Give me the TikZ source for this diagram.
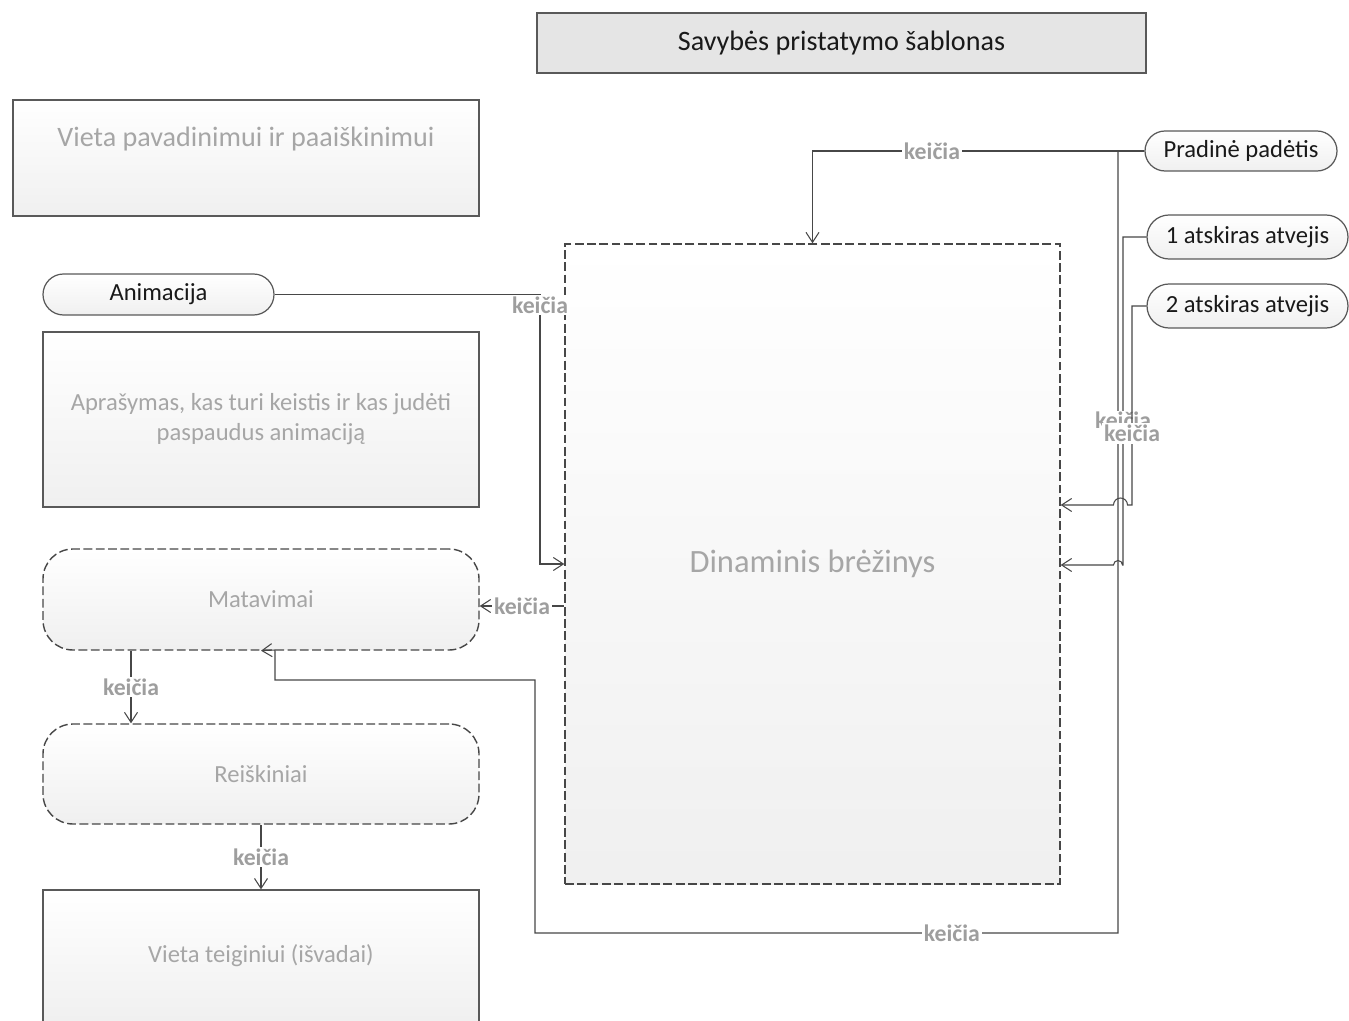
\documentclass[tikz,border=0pt]{standalone}
\usepackage{fontspec}
\setmainfont{Carlito}
\usetikzlibrary{shapes.misc, arrows.meta}

\begin{document}
\begin{tikzpicture}[
    % Estilos de las cajas (paneles, pastillas y etiquetas)
    titlebox/.style={fill=gray!20, draw=black!65, line width=0.7pt, text=black!90, font=\fontsize{16}{19}\selectfont, inner sep=0pt},
    panel/.style={draw=black!65, line width=0.7pt, top color=white, bottom color=gray!12, text=black!35, font=\fontsize{14}{17}\selectfont, align=center, inner sep=0pt},
    dashpanel/.style={panel, draw=black!72, line width=0.8pt, dash pattern=on 5pt off 2pt},
    roundpanel/.style={dashpanel, rounded corners=6mm},
    note/.style={text=black!35, font=\fontsize{16}{19}\selectfont},
    pill/.style={rounded rectangle, draw=black!65, line width=0.7pt, top color=white, bottom color=gray!12, text=black!90, font=\fontsize{14}{17}\selectfont, inner sep=0pt},
    conn/.style={draw=black!72, line width=0.6pt, -{Straight Barb[length=2mm, width=2.6mm]}},
    lbl/.style={fill=white, text=black!38, font=\bfseries\fontsize{13.5}{16}\selectfont, inner sep=1pt}
]
\useasboundingbox (0,0) rectangle (26.98,-20.42);

% ---------------------------------------------------------
% 1. CAJAS Y TEXTOS (Nodos)
% ---------------------------------------------------------
\node[titlebox, minimum width=12.18cm, minimum height=1.2cm] (title) at (16.83,-0.86) {Savybės pristatymo šablonas};

% --- Columna izquierda ---
\node[panel, minimum width=9.32cm, minimum height=2.32cm] (namebox) at (4.92,-3.16) {};
\node[note] at ([yshift=-0.8cm]namebox.north) {Vieta pavadinimui ir paaiškinimui};

\node[pill, minimum width=4.62cm, minimum height=0.82cm] (anim) at (3.17,-5.89) {Animacija};

\node[panel, minimum width=8.72cm, minimum height=3.5cm] (desc) at (5.22,-8.39) {Aprašymas, kas turi keistis ir kas judėti\\paspaudus animaciją};

\node[roundpanel, minimum width=8.72cm, minimum height=2.02cm] (matav) at (5.22,-11.99) {Matavimai};

\node[roundpanel, minimum width=8.72cm, minimum height=2.0cm] (reisk) at (5.22,-15.48) {Reiškiniai};

\node[panel, minimum width=8.72cm, minimum height=2.64cm] (teig) at (5.22,-19.12) {Vieta teiginiui (išvadai)};

% --- Centro ---
\node[dashpanel, minimum width=9.9cm, minimum height=12.8cm, font=\fontsize{18.5}{22}\selectfont] (dinam) at (16.25,-11.28) {Dinaminis brėžinys};

% --- Columna derecha ---
\node[pill, minimum width=3.84cm, minimum height=0.8cm] (prad) at (24.82,-3.02) {Pradinė padėtis};
\node[pill, minimum width=4.02cm, minimum height=0.88cm] (atv1) at (24.95,-4.74) {1 atskiras atvejis};
\node[pill, minimum width=4.02cm, minimum height=0.88cm] (atv2) at (24.95,-6.12) {2 atskiras atvejis};

% ---------------------------------------------------------
% 2. CONECTORES (keičia)
% ---------------------------------------------------------
% Pradinė padėtis -> Matavimai (vuelta por abajo)
\draw[conn] (prad.west) -- (22.36,-3.02) -- (22.36,-18.66) -- node[lbl, pos=0.285] {keičia} (10.7,-18.66) -- (10.7,-13.6) -- (5.5,-13.6) -- (5.5,-13.0) -- (matav.south);

% Pradinė padėtis -> Dinaminis brėžinys
\draw[conn] (prad.west) -| node[lbl, pos=0.32] {keičia} (dinam.north);

% Animacija -> Dinaminis brėžinys
\draw[conn] (anim.east) -- (10.8,-5.89) |- node[lbl, pos=0.02] {keičia} (dinam.west);

% Dinaminis brėžinys -> Matavimai
\coordinate (dm) at ([yshift=-0.84cm]dinam.west);
\draw[conn] (dm) -- node[lbl] {keičia} (dm -| matav.east);

% Matavimai -> Reiškiniai -> Vieta teiginiui
\draw[conn] ([xshift=-2.6cm]matav.south) -- node[lbl] {keičia} ([xshift=-2.6cm]reisk.north);
\draw[conn] (reisk) -- node[lbl] {keičia} (teig);

% Atskiri atvejai -> Dinaminis brėžinys (con saltos)
\draw[conn] (atv1.west) -- (22.46,-4.74) -- node[lbl, pos=0.56] {keičia} (22.46,-11.3) -- (22.45,-11.3) arc[start angle=0, end angle=180, radius=0.09] -- (dinam.east |- 0,-11.3);
\draw[conn] (atv2.west) -- (22.64,-6.12) -- node[lbl, pos=0.64] {keičia} (22.64,-10.1) -- (22.55,-10.1) arc[start angle=0, end angle=180, radius=0.14] -- (dinam.east |- 0,-10.1);

\end{tikzpicture}
\end{document}
